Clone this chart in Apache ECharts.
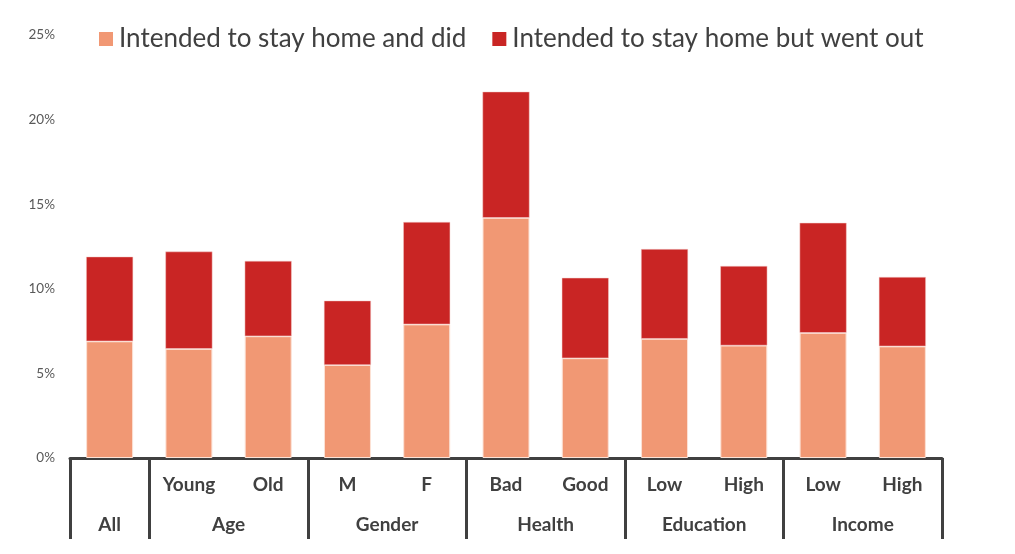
<!DOCTYPE html>
<html><head><meta charset="utf-8">
<script src="https://cdn.jsdelivr.net/npm/echarts@6/dist/echarts.min.js"></script>
<style>html,body{margin:0;padding:0;background:#fff}#c{width:1015px;height:554px}</style>
</head><body><div id="c"></div>
<script>
const categories = ['', 'Young', 'Old', 'M', 'F', 'Bad', 'Good', 'Low', 'High', 'Low', 'High'];
const groupNames = ['All', 'Age', 'Gender', 'Health', 'Education', 'Income'];
const groupSizes = [1, 2, 2, 2, 2, 2];
const stayedHome = [6.9, 6.45, 7.2, 5.5, 7.9, 14.2, 5.9, 7.05, 6.65, 7.4, 6.6];
const wentOut = [5.0, 5.75, 4.45, 3.8, 6.05, 7.45, 4.75, 5.3, 4.7, 6.5, 4.1];
const yTicks = [0, 5, 10, 15, 20, 25];

const bounds = [0]; const centers = []; const labelMap = {};
groupSizes.forEach((s, i) => { const a = bounds[bounds.length - 1]; centers.push(a + s / 2); labelMap[a + s / 2] = groupNames[i]; bounds.push(a + s); });

const txt = '#404040';
const chart = echarts.init(document.getElementById('c'));
chart.setOption({
  animation: false,
  grid: { left: 70, right: 73, top: 35, bottom: 96 },
  legend: {
    left: 94, top: 21, itemWidth: 14, itemHeight: 14, itemGap: 26,
    textStyle: { fontFamily: 'Lato', fontSize: 26, color: txt, padding: [0, 0, 0, 1] },
    itemStyle: { borderWidth: 0 },
    icon: 'rect'
  },
  xAxis: [
    {
      type: 'category', data: categories, position: 'bottom',
      axisLine: { lineStyle: { color: txt, width: 3 } },
      axisTick: { show: false },
      axisLabel: { fontFamily: 'Lato', fontWeight: 'bold', fontSize: 19, color: txt, margin: 17, interval: 0 }
    },
    {
      type: 'value', min: 0, max: categories.length, position: 'bottom',
      axisLine: { show: false },
      splitLine: { show: false },
      axisTick: { show: true, customValues: bounds, length: 81, inside: false, lineStyle: { color: txt, width: 3 } },
      axisLabel: { customValues: centers, formatter: v => labelMap[v] || '', fontFamily: 'Lato', fontWeight: 'bold', fontSize: 19, color: txt, margin: 57 }
    }
  ],
  yAxis: {
    type: 'value', min: yTicks[0], max: yTicks[yTicks.length - 1], interval: 5,
    axisLine: { show: false }, axisTick: { show: false }, splitLine: { show: false },
    axisLabel: { formatter: '{value}%', fontFamily: 'Lato', fontSize: 13.5, color: '#595959', margin: 15 }
  },
  series: [
    { name: 'Intended to stay home and did', type: 'bar', stack: 's', data: stayedHome, barWidth: 47,
      itemStyle: { color: '#F19874', borderColor: '#FCE2D6', borderWidth: 1 } },
    { name: 'Intended to stay home but went out', type: 'bar', stack: 's', data: wentOut, barWidth: 47,
      itemStyle: { color: '#C92524', borderColor: '#F4D0CC', borderWidth: 0.5 } }
  ]
});
</script></body></html>
